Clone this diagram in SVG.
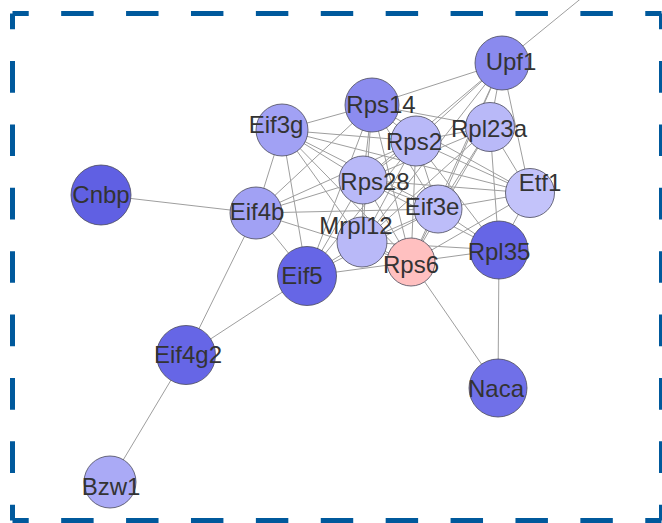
<svg xmlns="http://www.w3.org/2000/svg" width="662" height="523" viewBox="0 0 662 523">
<style>
.edge{stroke:#9e9e9e;stroke-width:1;fill:none}
.node circle{stroke:#4a4a5a;stroke-width:0.8}
.node text{font-family:"Liberation Sans",Arial,sans-serif;font-size:24px;fill:#333;text-anchor:middle}
.bh{stroke:#00599c;stroke-width:5;stroke-dasharray:32.45 32.45;stroke-dashoffset:16.225;fill:none}
.bv{stroke:#00599c;stroke-width:5;stroke-dasharray:31.69 31.69;stroke-dashoffset:15.84;fill:none}
</style>
<rect width="662" height="523" fill="#fff"/>
<g id="border">
<line class="bh" x1="12.5" y1="13.5" x2="661.5" y2="13.5"/>
<line class="bh" x1="12.5" y1="520.5" x2="661.5" y2="520.5"/>
<line class="bv" x1="12.5" y1="13.5" x2="12.5" y2="520.5"/>
<line class="bv" x1="661.5" y1="13.5" x2="661.5" y2="520.5"/>
</g>
<g id="connectors">
<line class="edge" x1="502" y1="63" x2="600" y2="-17"/>
<line class="edge" x1="502" y1="63" x2="372" y2="105"/>
<line class="edge" x1="502" y1="63" x2="416" y2="141"/>
<line class="edge" x1="502" y1="63" x2="363" y2="180"/>
<line class="edge" x1="502" y1="63" x2="490" y2="127"/>
<line class="edge" x1="502" y1="63" x2="530" y2="193"/>
<line class="edge" x1="502" y1="63" x2="438" y2="209"/>
<line class="edge" x1="502" y1="63" x2="362" y2="242"/>
<line class="edge" x1="502" y1="63" x2="411" y2="262"/>
<line class="edge" x1="372" y1="105" x2="282" y2="130"/>
<line class="edge" x1="372" y1="105" x2="416" y2="141"/>
<line class="edge" x1="372" y1="105" x2="363" y2="180"/>
<line class="edge" x1="372" y1="105" x2="490" y2="127"/>
<line class="edge" x1="372" y1="105" x2="438" y2="209"/>
<line class="edge" x1="372" y1="105" x2="362" y2="242"/>
<line class="edge" x1="372" y1="105" x2="411" y2="262"/>
<line class="edge" x1="372" y1="105" x2="256" y2="213"/>
<line class="edge" x1="372" y1="105" x2="307" y2="276"/>
<line class="edge" x1="372" y1="105" x2="530" y2="193"/>
<line class="edge" x1="282" y1="130" x2="416" y2="141"/>
<line class="edge" x1="282" y1="130" x2="363" y2="180"/>
<line class="edge" x1="282" y1="130" x2="438" y2="209"/>
<line class="edge" x1="282" y1="130" x2="411" y2="262"/>
<line class="edge" x1="282" y1="130" x2="530" y2="193"/>
<line class="edge" x1="282" y1="130" x2="256" y2="213"/>
<line class="edge" x1="282" y1="130" x2="307" y2="276"/>
<line class="edge" x1="282" y1="130" x2="362" y2="242"/>
<line class="edge" x1="416" y1="141" x2="490" y2="127"/>
<line class="edge" x1="416" y1="141" x2="363" y2="180"/>
<line class="edge" x1="416" y1="141" x2="438" y2="209"/>
<line class="edge" x1="416" y1="141" x2="530" y2="193"/>
<line class="edge" x1="416" y1="141" x2="362" y2="242"/>
<line class="edge" x1="416" y1="141" x2="411" y2="262"/>
<line class="edge" x1="416" y1="141" x2="499" y2="250"/>
<line class="edge" x1="416" y1="141" x2="256" y2="213"/>
<line class="edge" x1="416" y1="141" x2="307" y2="276"/>
<line class="edge" x1="490" y1="127" x2="363" y2="180"/>
<line class="edge" x1="490" y1="127" x2="438" y2="209"/>
<line class="edge" x1="490" y1="127" x2="530" y2="193"/>
<line class="edge" x1="490" y1="127" x2="499" y2="250"/>
<line class="edge" x1="490" y1="127" x2="411" y2="262"/>
<line class="edge" x1="490" y1="127" x2="362" y2="242"/>
<line class="edge" x1="363" y1="180" x2="438" y2="209"/>
<line class="edge" x1="363" y1="180" x2="530" y2="193"/>
<line class="edge" x1="363" y1="180" x2="362" y2="242"/>
<line class="edge" x1="363" y1="180" x2="411" y2="262"/>
<line class="edge" x1="363" y1="180" x2="499" y2="250"/>
<line class="edge" x1="363" y1="180" x2="256" y2="213"/>
<line class="edge" x1="363" y1="180" x2="307" y2="276"/>
<line class="edge" x1="530" y1="193" x2="438" y2="209"/>
<line class="edge" x1="530" y1="193" x2="411" y2="262"/>
<line class="edge" x1="530" y1="193" x2="499" y2="250"/>
<line class="edge" x1="256" y1="213" x2="438" y2="209"/>
<line class="edge" x1="256" y1="213" x2="411" y2="262"/>
<line class="edge" x1="256" y1="213" x2="307" y2="276"/>
<line class="edge" x1="256" y1="213" x2="101" y2="195"/>
<line class="edge" x1="256" y1="213" x2="186" y2="355"/>
<line class="edge" x1="438" y1="209" x2="362" y2="242"/>
<line class="edge" x1="438" y1="209" x2="411" y2="262"/>
<line class="edge" x1="438" y1="209" x2="499" y2="250"/>
<line class="edge" x1="438" y1="209" x2="307" y2="276"/>
<line class="edge" x1="362" y1="242" x2="411" y2="262"/>
<line class="edge" x1="362" y1="242" x2="307" y2="276"/>
<line class="edge" x1="362" y1="242" x2="499" y2="250"/>
<line class="edge" x1="411" y1="262" x2="499" y2="250"/>
<line class="edge" x1="411" y1="262" x2="307" y2="276"/>
<line class="edge" x1="411" y1="262" x2="498" y2="388"/>
<line class="edge" x1="499" y1="250" x2="498" y2="388"/>
<line class="edge" x1="307" y1="276" x2="186" y2="355"/>
<line class="edge" x1="186" y1="355" x2="110" y2="482"/>
</g>
<g id="Upf1" class="node"><circle cx="502" cy="63" r="27" fill="#8a8aee"/><text x="511" y="70">Upf1</text></g>
<g id="Rps14" class="node"><circle cx="372" cy="105" r="27" fill="#8c8cef"/><text x="381" y="113">Rps14</text></g>
<g id="Eif3g" class="node"><circle cx="282" cy="130" r="26" fill="#a1a1f4"/><text x="276" y="133">Eif3g</text></g>
<g id="Rps2" class="node"><circle cx="416" cy="141" r="25" fill="#b9b9f8"/><text x="414" y="150">Rps2</text></g>
<g id="Rpl23a" class="node"><circle cx="490" cy="127" r="24.5" fill="#b9b9f8"/><text x="489" y="137">Rpl23a</text></g>
<g id="Cnbp" class="node"><circle cx="101" cy="195" r="30" fill="#6060e3"/><text x="101" y="203">Cnbp</text></g>
<g id="Etf1" class="node"><circle cx="530" cy="193" r="24.5" fill="#c3c3fa"/><text x="540" y="191">Etf1</text></g>
<g id="Rps28" class="node"><circle cx="363" cy="180" r="24" fill="#b9b9f8"/><text x="375" y="190">Rps28</text></g>
<g id="Eif4b" class="node"><circle cx="256" cy="213" r="26" fill="#a1a1f4"/><text x="257" y="220">Eif4b</text></g>
<g id="Eif3e" class="node"><circle cx="438" cy="209" r="24" fill="#bdbdf9"/><text x="432" y="215">Eif3e</text></g>
<g id="Mrpl12" class="node"><circle cx="362" cy="242" r="25" fill="#b9b9f8"/><text x="356" y="234">Mrpl12</text></g>
<g id="Rps6" class="node"><circle cx="411" cy="262" r="24" fill="#ffc0c0"/><text x="411" y="273">Rps6</text></g>
<g id="Rpl35" class="node"><circle cx="499" cy="250" r="29" fill="#6666e6"/><text x="499" y="260">Rpl35</text></g>
<g id="Eif5" class="node"><circle cx="307" cy="276" r="29.5" fill="#6666e6"/><text x="302" y="284">Eif5</text></g>
<g id="Eif4g2" class="node"><circle cx="186" cy="355" r="29.5" fill="#6666e6"/><text x="188" y="363">Eif4g2</text></g>
<g id="Naca" class="node"><circle cx="498" cy="388" r="29" fill="#7070e8"/><text x="496" y="397">Naca</text></g>
<g id="Bzw1" class="node"><circle cx="110" cy="482" r="26" fill="#aaaaf6"/><text x="111" y="495">Bzw1</text></g>
</svg>
